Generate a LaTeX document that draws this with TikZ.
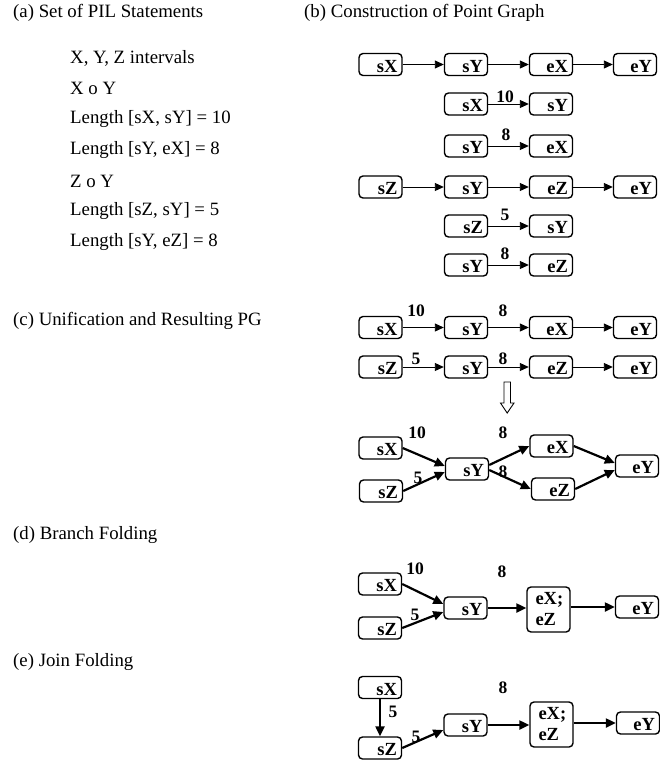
\documentclass[tikz,border=0pt]{standalone}
\usepackage{fontspec}
\setmainfont{Liberation Serif}
\usetikzlibrary{arrows.meta}
\begin{document}
\begin{tikzpicture}[x=1pt,y=-1pt,
 txt/.style={anchor=west, inner sep=0pt, font=\fontsize{18.8}{22}\selectfont},
 box/.style={draw, rounded corners=4pt, line width=1.4pt, minimum width=43pt, text width=34pt, align=right, inner xsep=4.5pt, text height=16.5pt, text depth=1.5pt, inner ysep=2pt, font=\bfseries\fontsize{18.5}{21}\selectfont},
 tallbox/.style={draw, rounded corners=4pt, line width=1.4pt, minimum width=43pt, minimum height=45pt, text width=26pt, align=left, inner xsep=8.5pt, inner ysep=2pt, font=\bfseries\fontsize{18.5}{21}\selectfont},
 lbl/.style={inner sep=0pt, font=\bfseries\fontsize{17.5}{17.5}\selectfont},
 thinarr/.style={line width=0.9pt, -{Triangle[length=9pt,width=8pt]}},
 thickarr/.style={line width=2.2pt, -{Triangle[length=10pt,width=9pt]}},
]
\path[fill=white, use as bounding box] (0,0) rectangle (659,763);

% headings and statements
\node[txt] (ha) at (13,13) {(a) Set of PIL Statements};
\node[txt] (hb) at (304,13) {(b) Construction of Point Graph};
\node[txt] (hc) at (13,321) {(c) Unification and Resulting PG};
\node[txt] (hd) at (13,535) {(d) Branch Folding};
\node[txt] (he) at (13,662) {(e) Join Folding};
\node[txt] (s1) at (70,58) {X, Y, Z intervals};
\node[txt] (s2) at (70,88) {X o Y};
\node[txt] (s3) at (70,119) {Length [sX, sY] = 10};
\node[txt] (s4) at (70,150) {Length [sY, eX] = 8};
\node[txt] (s5) at (70,181) {Z o Y};
\node[txt] (s6) at (70,211) {Length [sZ, sY] = 5};
\node[txt] (s7) at (70,242) {Length [sY, eZ] = 8};

% (b)
\node[box] (b1sX) at (380.5,64.5) {sX};
\node[box] (b1sY) at (466,64.5) {sY};
\node[box] (b1eX) at (551,64.5) {eX};
\node[box] (b1eY) at (635,64.5) {eY};
\draw[thinarr] (b1sX) -- (b1sY);
\draw[thinarr] (b1sY) -- (b1eX);
\draw[thinarr] (b1eX) -- (b1eY);

\node[box] (b2sX) at (466,104) {sX};
\node[box] (b2sY) at (551,104) {sY};
\draw[thinarr] (b2sX) -- (b2sY);
\node[lbl] (l21) at (505,97) {10};

\node[box] (b3sY) at (466,146) {sY};
\node[box] (b3eX) at (551,146) {eX};
\draw[thinarr] (b3sY) -- (b3eX);
\node[lbl] (l31) at (506,135) {8};

\node[box] (b4sZ) at (380.5,187) {sZ};
\node[box] (b4sY) at (466,187) {sY};
\node[box] (b4eZ) at (551,187) {eZ};
\node[box] (b4eY) at (635,187) {eY};
\draw[thinarr] (b4sZ) -- (b4sY);
\draw[thinarr] (b4sY) -- (b4eZ);
\draw[thinarr] (b4eZ) -- (b4eY);

\node[box] (b5sZ) at (466,226) {sZ};
\node[box] (b5sY) at (551,226) {sY};
\draw[thinarr] (b5sZ) -- (b5sY);
\node[lbl] (l51) at (505,215) {5};

\node[box] (b6sY) at (466,265) {sY};
\node[box] (b6eZ) at (551,265) {eZ};
\draw[thinarr] (b6sY) -- (b6eZ);
\node[lbl] (l61) at (505,254) {8};

% (c) top rows
\node[box] (c1sX) at (380.5,327.5) {sX};
\node[box] (c1sY) at (466,327.5) {sY};
\node[box] (c1eX) at (551,327.5) {eX};
\node[box] (c1eY) at (635,327.5) {eY};
\draw[thinarr] (c1sX) -- (c1sY);
\draw[thinarr] (c1sY) -- (c1eX);
\draw[thinarr] (c1eX) -- (c1eY);
\node[lbl] (lc11) at (416,311) {10};
\node[lbl] (lc12) at (503,311) {8};

\node[box] (c2sZ) at (380.5,367) {sZ};
\node[box] (c2sY) at (466,367) {sY};
\node[box] (c2eZ) at (551,367) {eZ};
\node[box] (c2eY) at (635,367) {eY};
\draw[thinarr] (c2sZ) -- (c2sY);
\draw[thinarr] (c2sY) -- (c2eZ);
\draw[thinarr] (c2eZ) -- (c2eY);
\node[lbl] (lc21) at (416,358.5) {5};
\node[lbl] (lc22) at (503,359) {8};

% hollow arrow
\draw[line width=0.9pt, fill=white] (504,382) -- (510.5,382) -- (510.5,403) -- (514,403) -- (507.2,413) -- (500.5,403) -- (504,403) -- cycle;

% (c) unified graph
\node[box] (c3sX) at (380.5,448) {sX};
\node[box] (c3sZ) at (381,491) {sZ};
\node[box] (c3sY) at (467,469) {sY};
\node[box] (c3eX) at (551.5,446) {eX};
\node[box] (c3eZ) at (553,489) {eZ};
\node[box] (c3eY) at (637,466) {eY};
\draw[thickarr] (c3sX.east) -- ([yshift=3pt]c3sY.west);
\draw[thickarr] (c3sZ.east) -- ([yshift=-3pt]c3sY.west);
\draw[thickarr] ([yshift=4pt]c3sY.east) -- (c3eX.west);
\draw[thickarr] ([yshift=-1pt]c3sY.east) -- (c3eZ.west);
\draw[thickarr] (c3eX.east) -- ([yshift=3pt]c3eY.west);
\draw[thickarr] (c3eZ.east) -- ([yshift=-4pt]c3eY.west);
\node[lbl] (lc31) at (417,433) {10};
\node[lbl] (lc32) at (503,433) {8};
\node[lbl] (lc33) at (503,472) {8};
\node[lbl] (lc34) at (418,478) {5};

% (d)
\node[box] (dsX) at (380,584) {sX};
\node[box] (dsZ) at (380,628) {sZ};
\node[box] (dsY) at (465.5,608) {sY};
\node[tallbox] (deXZ) at (548.5,609.5) {eX;\\eZ};
\node[box] (deY) at (637,607) {eY};
\draw[thickarr] (dsX.east) -- ([yshift=4pt]dsY.west);
\draw[thickarr] (dsZ.east) -- ([yshift=-4pt]dsY.west);
\draw[thickarr] (dsY.east) -- (dsY.east -| deXZ.west);
\draw[thickarr] (deXZ.east |- deY.west) -- (deY.west);
\node[lbl] (ld1) at (415,569) {10};
\node[lbl] (ld2) at (502,572) {8};
\node[lbl] (ld3) at (415,615) {5};

% (e)
\node[box] (esX) at (380,687.5) {sX};
\node[box] (esZ) at (380,748) {sZ};
\node[box] (esY) at (465.5,725) {sY};
\node[tallbox] (eeXZ) at (551.5,724.5) {eX;\\eZ};
\node[box] (eeY) at (638,723) {eY};
\draw[thickarr] (esX) -- (esZ);
\draw[thickarr] (esZ.east) -- ([yshift=-5pt]esY.west);
\draw[thickarr] (esY.east) -- (esY.east -| eeXZ.west);
\draw[thickarr] (eeXZ.east |- eeY.west) -- (eeY.west);
\node[lbl] (le1) at (503,688) {8};
\node[lbl] (le2) at (393,712) {5};
\node[lbl] (le3) at (416,737) {5};
\end{tikzpicture}
\end{document}
